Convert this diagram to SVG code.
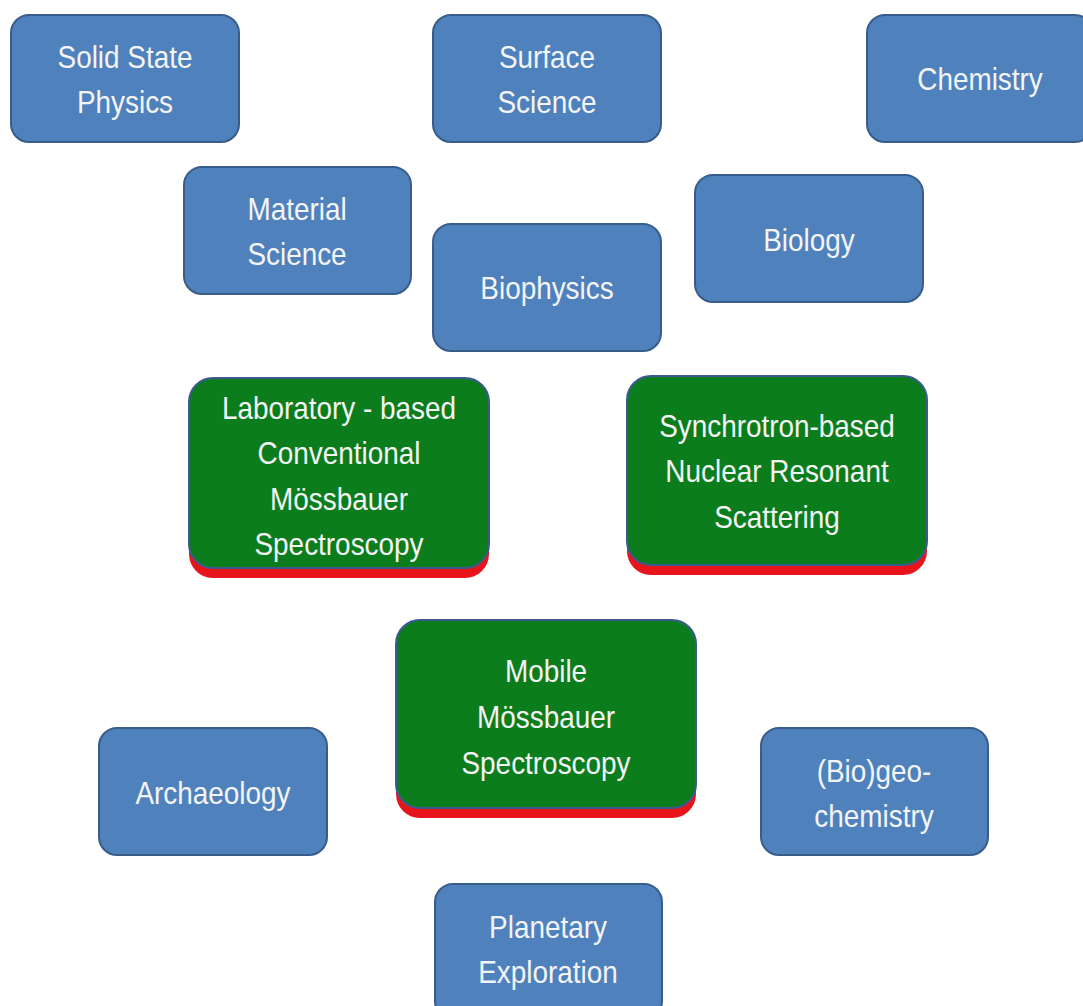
<svg xmlns="http://www.w3.org/2000/svg" width="1083" height="1006" viewBox="0 0 1083 1006">
<style>
.b{fill:#4F81BD;stroke:#385D8A;stroke-width:2}
.g{fill:#0B7D1C;stroke:#3B5B8F;stroke-width:2}
.sh{fill:#E8141C}
text{font-family:"Liberation Sans",Arial,sans-serif;font-size:31px;fill:#F4F4F4;text-anchor:middle}
</style>
<rect width="1083" height="1006" fill="#FFFFFF"/>
<g id="connectors"></g>
<g id="solid-state"><rect class="b" x="11" y="15" width="228" height="127" rx="18"/><text transform="translate(125 68) scale(0.9 1)">Solid State</text><text transform="translate(125 113) scale(0.9 1)">Physics</text></g>
<g id="surface"><rect class="b" x="433" y="15" width="228" height="127" rx="18"/><text transform="translate(547 68) scale(0.9 1)">Surface</text><text transform="translate(547 113) scale(0.9 1)">Science</text></g>
<g id="chemistry"><rect class="b" x="867" y="15" width="226" height="127" rx="18"/><text transform="translate(980 90) scale(0.9 1)">Chemistry</text></g>
<g id="material"><rect class="b" x="184" y="167" width="227" height="127" rx="18"/><text transform="translate(297 220) scale(0.9 1)">Material</text><text transform="translate(297 265) scale(0.9 1)">Science</text></g>
<g id="biology"><rect class="b" x="695" y="175" width="228" height="127" rx="18"/><text transform="translate(809 251) scale(0.9 1)">Biology</text></g>
<g id="biophysics"><rect class="b" x="433" y="224" width="228" height="127" rx="18"/><text transform="translate(547 299) scale(0.9 1)">Biophysics</text></g>
<g id="laboratory"><rect class="sh" x="189" y="386" width="300" height="192" rx="24"/><rect class="g" x="189" y="378" width="300" height="190" rx="24"/><text transform="translate(339 419) scale(0.9 1)">Laboratory - based</text><text transform="translate(339 464) scale(0.9 1)">Conventional</text><text transform="translate(339 510) scale(0.9 1)">Mössbauer</text><text transform="translate(339 555) scale(0.9 1)">Spectroscopy</text></g>
<g id="synchrotron"><rect class="sh" x="627" y="384" width="300" height="191" rx="24"/><rect class="g" x="627" y="376" width="300" height="189" rx="24"/><text transform="translate(777 437) scale(0.9 1)">Synchrotron-based</text><text transform="translate(777 482) scale(0.9 1)">Nuclear Resonant</text><text transform="translate(777 528) scale(0.9 1)">Scattering</text></g>
<g id="mobile"><rect class="sh" x="396" y="628" width="300" height="190" rx="24"/><rect class="g" x="396" y="620" width="300" height="188" rx="24"/><text transform="translate(546 682) scale(0.9 1)">Mobile</text><text transform="translate(546 728) scale(0.9 1)">Mössbauer</text><text transform="translate(546 774) scale(0.9 1)">Spectroscopy</text></g>
<g id="archaeology"><rect class="b" x="99" y="728" width="228" height="127" rx="18"/><text transform="translate(213 804) scale(0.9 1)">Archaeology</text></g>
<g id="biogeochemistry"><rect class="b" x="761" y="728" width="227" height="127" rx="18"/><text transform="translate(874 782) scale(0.9 1)">(Bio)geo-</text><text transform="translate(874 827) scale(0.9 1)">chemistry</text></g>
<g id="planetary"><rect class="b" x="435" y="884" width="227" height="135" rx="18"/><text transform="translate(548 938) scale(0.9 1)">Planetary</text><text transform="translate(548 983) scale(0.9 1)">Exploration</text></g>
</svg>
